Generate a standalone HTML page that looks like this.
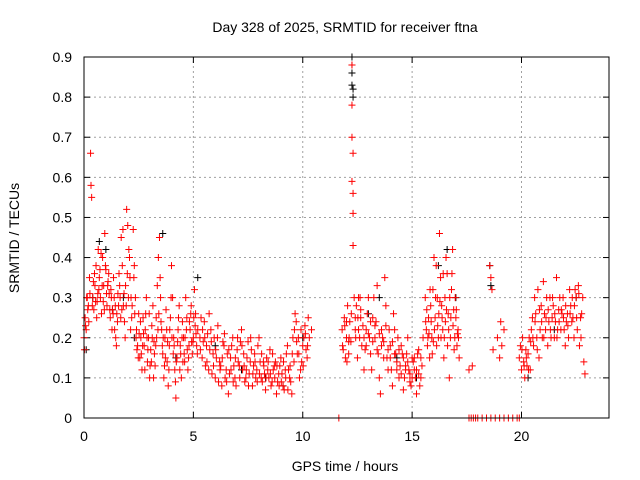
<!DOCTYPE html>
<html><head><meta charset="utf-8"><style>
body{margin:0;background:#fff;}
svg{display:block;font-family:"Liberation Sans",sans-serif;}
</style></head><body>
<svg id="chart" width="640" height="480">
<text x="345" y="32" font-size="14" text-anchor="middle">Day 328 of 2025, SRMTID for receiver ftna</text>
<text x="345" y="471" font-size="14" text-anchor="middle">GPS time / hours</text>
<text transform="translate(19,238) rotate(-90)" font-size="14" text-anchor="middle">SRMTID / TECUs</text>
<g id="grid"></g><g id="ticks"></g><g id="black"></g><g id="red"></g>
<rect x="84" y="57" width="525" height="361" fill="none" stroke="#000"/>
</svg>
<script>
const xTicks=[0,5,10,15,20];
const yTicks=[0,0.1,0.2,0.3,0.4,0.5,0.6,0.7,0.8,0.9];
const yTickLabels=["0","0.1","0.2","0.3","0.4","0.5","0.6","0.7","0.8","0.9"];
const redHoursA=[0.0,0.05,0.1,0.15,0.2,0.25,0.3,0.32,0.35,0.4,0.45,0.5,0.55,0.6,0.65,0.7,0.75,0.8,0.85,0.9,0.95,1.0,1.05,1.1,1.15,1.2,1.25,1.3,1.35,1.4,1.45,1.5,1.55,1.6,1.65,1.7,1.75,1.8,1.85,1.9,1.95,2.0,2.05,2.1,2.15,2.2];
const redValuesA=[0.2,0.25,0.22,0.3,0.28,0.35,0.66,0.58,0.55,0.3,0.27,0.33,0.38,0.29,0.42,0.35,0.3,0.26,0.4,0.33,0.46,0.37,0.28,0.34,0.31,0.25,0.3,0.27,0.35,0.22,0.2,0.26,0.31,0.36,0.3,0.45,0.38,0.28,0.24,0.33,0.52,0.48,0.42,0.35,0.3,0.28];
const redHoursA2=[0.02,0.12,0.22,0.38,0.48,0.58,0.68,0.78,0.88,0.98,1.08,1.18,1.28,1.38,1.48,1.58,1.68,1.78,1.88,1.98,2.08,2.18];
const redValuesA2=[0.17,0.3,0.24,0.28,0.36,0.25,0.32,0.41,0.29,0.38,0.33,0.27,0.22,0.3,0.18,0.28,0.25,0.47,0.2,0.36,0.4,0.25];
const redHoursA3=[0.07,0.17,0.27,0.43,0.53,0.63,0.73,0.83,0.93,1.03,1.13,1.23,1.33,1.43,1.53,1.63,1.73,1.83,1.93,2.03,2.13];
const redValuesA3=[0.23,0.27,0.31,0.34,0.29,0.31,0.37,0.33,0.27,0.31,0.36,0.32,0.26,0.28,0.24,0.33,0.27,0.31,0.28,0.3,0.22];
const redHoursB=[2.25,2.3,2.35,2.4,2.45,2.5,2.55,2.6,2.65,2.7,2.75,2.8,2.85,2.9,2.95,3.0,3.05,3.1,3.15,3.2,3.25,3.3,3.35,3.4,3.45,3.5,3.55,3.6,3.65,3.7,3.75,3.8,3.85,3.9,3.95,4.0,4.05,4.1,4.15,4.2,4.25,4.3,4.35,4.4,4.45,4.5,4.55,4.6,4.65,4.7,4.75,4.8,4.85,4.9,4.95,5.0,5.05,5.1,5.15,5.2];
const redValuesB=[0.47,0.38,0.3,0.22,0.18,0.26,0.15,0.2,0.12,0.25,0.18,0.22,0.3,0.14,0.2,0.1,0.17,0.23,0.28,0.19,0.13,0.25,0.33,0.4,0.45,0.3,0.22,0.16,0.1,0.2,0.27,0.14,0.08,0.18,0.25,0.38,0.3,0.2,0.12,0.05,0.15,0.22,0.28,0.18,0.1,0.24,0.2,0.14,0.3,0.25,0.12,0.18,0.22,0.28,0.16,0.2,0.32,0.26,0.18,0.22];
const redHoursB2=[2.28,2.38,2.48,2.58,2.68,2.78,2.88,2.98,3.08,3.18,3.28,3.38,3.48,3.58,3.68,3.78,3.88,3.98,4.08,4.18,4.28,4.38,4.48,4.58,4.68,4.78,4.88,4.98,5.08,5.18];
const redValuesB2=[0.35,0.2,0.15,0.24,0.18,0.12,0.2,0.26,0.14,0.1,0.18,0.22,0.35,0.18,0.13,0.22,0.12,0.3,0.16,0.09,0.19,0.12,0.2,0.16,0.22,0.15,0.26,0.19,0.23,0.16];
const redHoursB3=[2.32,2.42,2.52,2.62,2.72,2.82,2.92,3.02,3.12,3.22,3.32,3.42,3.52,3.62,3.72,3.82,3.92,4.02,4.12,4.22,4.32,4.42,4.52,4.62,4.72,4.82,4.92,5.02,5.12];
const redValuesB3=[0.26,0.17,0.21,0.16,0.21,0.26,0.17,0.13,0.2,0.16,0.2,0.26,0.24,0.2,0.15,0.19,0.22,0.2,0.18,0.14,0.25,0.16,0.14,0.2,0.17,0.24,0.19,0.25,0.21];
const redHoursC=[5.3,5.4,5.5,5.6,5.7,5.8,5.9,6.0,6.1,6.2,6.3,6.4,6.5,6.6,6.7,6.8,6.9,7.0,7.1,7.2,7.3,7.4,7.5,7.6,7.7,7.8,7.9,8.0,8.1,8.2,8.3,8.4,8.5,8.6,8.7,8.8,8.9,9.0,9.1,9.2,9.3,9.4,9.5,9.6,9.7,9.8,9.9,10.0,10.1,10.2,10.3,10.4];
const redValuesC=[0.2,0.15,0.24,0.18,0.12,0.22,0.16,0.1,0.2,0.14,0.08,0.18,0.12,0.06,0.15,0.2,0.1,0.17,0.13,0.22,0.16,0.1,0.19,0.14,0.08,0.16,0.12,0.2,0.1,0.14,0.07,0.12,0.17,0.09,0.13,0.06,0.11,0.15,0.08,0.12,0.18,0.1,0.06,0.14,0.24,0.2,0.12,0.18,0.23,0.15,0.2,0.22];
const redHoursC2=[5.35,5.45,5.55,5.65,5.75,5.85,5.95,6.05,6.15,6.25,6.35,6.45,6.55,6.65,6.75,6.85,6.95,7.05,7.15,7.25,7.35,7.45,7.55,7.65,7.75,7.85,7.95,8.05,8.15,8.25,8.35,8.45,8.55,8.65,8.75,8.85,8.95,9.05,9.15,9.25,9.35,9.45,9.55,9.65,9.75,9.85,9.95,10.05,10.15,10.25];
const redValuesC2=[0.25,0.19,0.13,0.21,0.17,0.11,0.2,0.15,0.09,0.13,0.19,0.1,0.16,0.11,0.18,0.13,0.08,0.14,0.19,0.12,0.09,0.15,0.11,0.17,0.13,0.1,0.18,0.14,0.09,0.11,0.15,0.1,0.08,0.12,0.14,0.09,0.13,0.11,0.07,0.16,0.12,0.09,0.2,0.26,0.16,0.1,0.14,0.2,0.17,0.25];
const redHoursC3=[5.32,5.42,5.52,5.62,5.72,5.82,5.92,6.02,6.12,6.22,6.32,6.42,6.52,6.62,6.72,6.82,6.92,7.02,7.12,7.22,7.32,7.42,7.52,7.62,7.72,7.82,7.92,8.02,8.12,8.22,8.32,8.42,8.52,8.62,8.72,8.82,8.92,9.02,9.12,9.22,9.32,9.42,9.52,9.62,9.72,9.82,9.92,10.02,10.12,10.22];
const redValuesC3=[0.17,0.22,0.2,0.14,0.26,0.19,0.13,0.17,0.23,0.12,0.15,0.21,0.09,0.17,0.12,0.09,0.15,0.2,0.1,0.18,0.13,0.12,0.08,0.2,0.11,0.14,0.09,0.11,0.16,0.13,0.1,0.14,0.11,0.16,0.1,0.13,0.08,0.09,0.14,0.1,0.07,0.13,0.16,0.22,0.19,0.16,0.22,0.13,0.21,0.18];
const redHoursD=[11.8,11.85,11.9,11.95,12.0,12.05,12.1,12.15,12.2,12.25,12.25,12.25,12.25,12.3,12.3,12.3,12.3,12.35,12.4,12.45,12.5,12.55,12.6,12.65,12.7,12.8,12.9,13.0,13.1,13.2,13.3,13.4,13.5,13.6,13.7,13.8,13.9,14.0,14.1,14.2,14.3,14.4,14.5,14.6,14.7,14.8,14.9,15.0,15.1,15.2,15.3,15.4,15.5];
const redValuesD=[0.22,0.17,0.25,0.15,0.2,0.28,0.16,0.24,0.19,0.88,0.78,0.7,0.59,0.66,0.56,0.51,0.43,0.3,0.22,0.28,0.15,0.3,0.2,0.25,0.18,0.12,0.22,0.3,0.16,0.25,0.2,0.33,0.1,0.22,0.15,0.28,0.12,0.18,0.08,0.22,0.14,0.1,0.18,0.07,0.13,0.2,0.09,0.15,0.12,0.06,0.17,0.1,0.2];
const redHoursD2=[11.82,11.92,12.02,12.12,12.22,12.42,12.52,12.62,12.75,12.85,12.95,13.05,13.15,13.25,13.35,13.45,13.55,13.65,13.75,13.85,13.95,14.05,14.15,14.25,14.35,14.45,14.55,14.65,14.75,14.85,14.95,15.05,15.15,15.25,15.35,15.45];
const redValuesD2=[0.18,0.23,0.14,0.2,0.26,0.2,0.25,0.3,0.23,0.17,0.26,0.2,0.12,0.3,0.24,0.16,0.06,0.2,0.35,0.15,0.22,0.12,0.26,0.16,0.2,0.13,0.16,0.1,0.16,0.12,0.08,0.14,0.1,0.16,0.08,0.13];
const redHoursD3=[12.0,12.1,12.4,12.55,12.65,12.8,12.9,13.0,13.1,13.2,13.3,13.4,13.5,13.6,13.7,13.8,13.9,14.0,14.1,14.2,14.3,14.4,14.5,14.6,14.7,14.8,14.9,15.0,15.1,15.2,15.3,15.4];
const redValuesD3=[0.24,0.19,0.25,0.22,0.27,0.2,0.18,0.21,0.24,0.19,0.23,0.17,0.21,0.18,0.19,0.23,0.17,0.15,0.19,0.16,0.12,0.17,0.11,0.15,0.12,0.14,0.11,0.1,0.15,0.12,0.11,0.15];
const redHoursE=[15.6,15.65,15.7,15.75,15.8,15.85,15.9,15.95,16.0,16.05,16.1,16.15,16.2,16.25,16.3,16.35,16.4,16.45,16.5,16.55,16.6,16.65,16.7,16.75,16.8,16.85,16.9,16.95,17.0,17.05,17.1,17.15];
const redValuesE=[0.3,0.22,0.18,0.25,0.15,0.28,0.2,0.32,0.4,0.25,0.38,0.3,0.2,0.46,0.35,0.28,0.22,0.15,0.3,0.4,0.36,0.26,0.1,0.2,0.32,0.42,0.27,0.2,0.25,0.18,0.22,0.15];
const redHoursE2=[15.62,15.72,15.82,15.92,16.02,16.12,16.22,16.32,16.42,16.52,16.62,16.72,16.82,16.92,17.02,17.12];
const redValuesE2=[0.24,0.2,0.32,0.16,0.22,0.18,0.26,0.2,0.36,0.24,0.18,0.3,0.36,0.17,0.27,0.2];
const redHoursE3=[15.67,15.77,15.87,15.97,16.07,16.17,16.27,16.37,16.47,16.57,16.67,16.77,16.87,16.97,17.07];
const redValuesE3=[0.27,0.21,0.24,0.19,0.3,0.23,0.29,0.25,0.2,0.27,0.22,0.25,0.23,0.3,0.21];
const redHoursF=[17.6,17.75,18.55,18.6,18.65,18.7,18.9,19.0,19.05,19.1,19.2];
const redValuesF=[0.12,0.13,0.38,0.35,0.32,0.17,0.2,0.15,0.24,0.18,0.22];
const redHoursG=[19.9,19.95,20.0,20.05,20.1,20.15,20.2,20.25,20.3,20.35,20.4,20.5,20.6,20.7,20.8,20.9,21.0,21.1,21.2,21.3,21.4,21.5,21.6,21.7,21.8,21.9,22.0,22.1,22.2,22.3,22.4,22.5,22.6,22.7,22.8,22.85,22.9];
const redValuesG=[0.15,0.18,0.12,0.2,0.14,0.1,0.17,0.13,0.16,0.2,0.12,0.25,0.3,0.2,0.15,0.28,0.34,0.22,0.18,0.3,0.25,0.2,0.35,0.27,0.22,0.3,0.18,0.26,0.32,0.24,0.2,0.3,0.33,0.25,0.3,0.14,0.11];
const redHoursG2=[20.45,20.55,20.65,20.75,20.85,20.95,21.05,21.15,21.25,21.35,21.45,21.55,21.65,21.75,21.85,21.95,22.05,22.15,22.25,22.35,22.45,22.55,22.65,22.75];
const redValuesG2=[0.22,0.18,0.26,0.32,0.22,0.2,0.26,0.3,0.24,0.2,0.28,0.24,0.22,0.3,0.26,0.22,0.24,0.2,0.28,0.25,0.32,0.22,0.18,0.26];
const redHoursG3=[20.02,20.12,20.22,20.32,20.42,20.52,20.62,20.72,20.82,20.92,21.02,21.12,21.22,21.32,21.42,21.52,21.62,21.72,21.82,21.92,22.02,22.12,22.22,22.32,22.42,22.52,22.62,22.72];
const redValuesG3=[0.17,0.13,0.15,0.12,0.19,0.2,0.24,0.17,0.27,0.24,0.2,0.25,0.27,0.22,0.3,0.26,0.2,0.24,0.27,0.25,0.28,0.23,0.26,0.3,0.28,0.25,0.31,0.2];
const redHoursZero=[11.65,17.6,17.7,17.8,17.9,18.0,18.2,18.4,18.6,18.8,19.0,19.2,19.4,19.6,19.8,19.9];
const redValuesZero=[0,0,0,0,0,0,0,0,0,0,0,0,0,0,0,0];
const blackHours=[0.1,0.4,0.7,1.0,1.3,1.8,2.3,3.6,4.2,5.2,6.0,7.2,8.3,9.1,10.0,12.25,12.25,12.25,12.25,12.3,12.3,13.0,13.5,14.3,15.2,16.2,16.6,17.0,18.55,18.6,20.3,21.5,22.5];
const blackValues=[0.17,0.3,0.44,0.42,0.27,0.3,0.2,0.46,0.15,0.35,0.18,0.12,0.1,0.08,0.2,0.9,0.88,0.86,0.83,0.82,0.8,0.26,0.3,0.15,0.1,0.38,0.42,0.3,0.38,0.33,0.1,0.22,0.3];

const NS="http://www.w3.org/2000/svg";
const X0=84,X1=609,Y0=418,Y1=57;
function xs(h){return X0+(h/24)*(X1-X0);}
function ys(v){return Y0-(v/0.9)*(Y0-Y1);}
function mk(tag,attrs,parent){const e=document.createElementNS(NS,tag);for(const k in attrs)e.setAttribute(k,attrs[k]);parent.appendChild(e);return e;}
const grid=document.getElementById('grid'),ticks=document.getElementById('ticks');
xTicks.forEach(t=>{
  const x=xs(t);
  if(t>0){const g=mk('line',{x1:x,x2:x,y1:Y0,y2:Y1,stroke:'#a0a0a0','stroke-dasharray':'2,3'},grid);
  
  }
  mk('line',{x1:x,x2:x,y1:Y0,y2:Y0-6,stroke:'#000'},ticks);
  mk('line',{x1:x,x2:x,y1:Y1,y2:Y1+6,stroke:'#000'},ticks);
  const l=mk('text',{x:x,y:Y0+23,'font-size':14,'text-anchor':'middle'},ticks);l.textContent=t;
  
  
});
yTicks.forEach((t,i)=>{
  const y=ys(t);
  if(i>0&&i<yTicks.length-1){const g=mk('line',{x1:X0,x2:X1,y1:y,y2:y,stroke:'#a0a0a0','stroke-dasharray':'2,3'},grid);
  
  }
  mk('line',{x1:X0,x2:X0+6,y1:y,y2:y,stroke:'#000'},ticks);
  mk('line',{x1:X1,x2:X1-6,y1:y,y2:y,stroke:'#000'},ticks);
  const l=mk('text',{x:X0-12,y:y+5,'font-size':14,'text-anchor':'end'},ticks);l.textContent=yTickLabels[i];
  
  
});
function plot(hours,vals,color,gid){
  const g=document.getElementById(gid);
  const n=Math.min(hours.length,vals.length);
  for(let i=0;i<n;i++){
    const x=xs(hours[i]),y=ys(vals[i]);
    const p=mk('path',{d:`M${x-3.5},${y}h7M${x},${y-3.5}v7`,stroke:color,'stroke-width':1,fill:'none'},g);
    
    
  }
}
plot(blackHours,blackValues,'#000','black');
[[redHoursA,redValuesA],[redHoursA2,redValuesA2],[redHoursA3,redValuesA3],[redHoursB,redValuesB],[redHoursB2,redValuesB2],[redHoursB3,redValuesB3],[redHoursC,redValuesC],[redHoursC2,redValuesC2],[redHoursC3,redValuesC3],[redHoursD,redValuesD],[redHoursD2,redValuesD2],[redHoursD3,redValuesD3],[redHoursE,redValuesE],[redHoursE2,redValuesE2],[redHoursE3,redValuesE3],[redHoursF,redValuesF],[redHoursG,redValuesG],[redHoursG2,redValuesG2],[redHoursG3,redValuesG3],[redHoursZero,redValuesZero]].forEach(s=>plot(s[0],s[1],'#f00','red'));
</script>
</body></html>
